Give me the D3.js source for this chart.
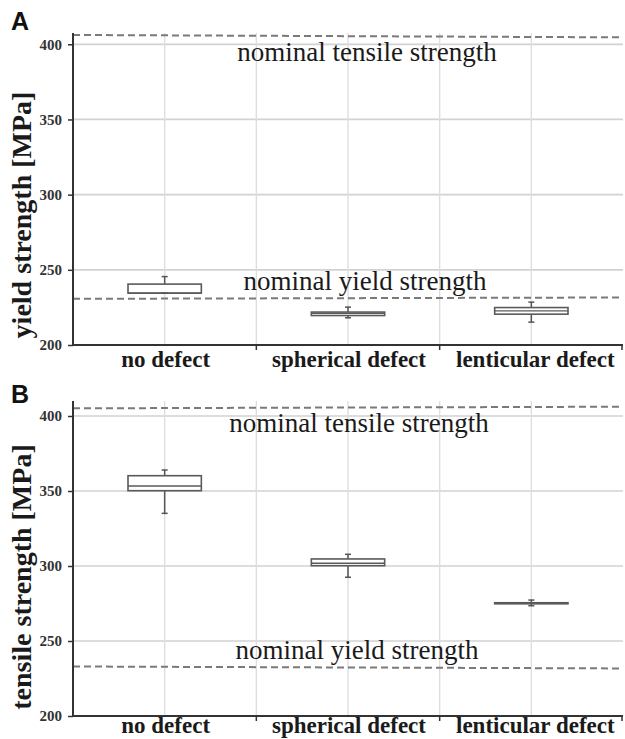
<!DOCTYPE html>
<html>
<head>
<meta charset="utf-8">
<script src="https://cdn.jsdelivr.net/npm/d3@7"></script>
<style>
  html, body { margin: 0; padding: 0; background: #fff; }
  svg { display: block; }
</style>
</head>
<body>
<svg id="chart" width="625" height="739"></svg>
<script>
// ---------- data ----------
const categories = ["no defect", "spherical defect", "lenticular defect"];
const yTicks = [200, 250, 300, 350, 400];

// box statistics: [whiskerLow, q1, median, q3, whiskerHigh]
const yieldBoxes = [
  [234.5, 234.5, 234.5, 240.5, 245.5],
  [218.1, 219.6, 221.0, 221.9, 225.2],
  [215.2, 220.5, 222.7, 224.9, 228.5]
];
const tensileBoxes = [
  [335.1, 350.2, 353.3, 360.2, 364.0],
  [292.5, 300.2, 301.8, 304.7, 307.8],
  [273.5, 274.8, 275.1, 275.5, 277.3]
];
// nominal reference lines: [value at left end, value at right end]
const nominalTensileA = [406.2, 404.6];
const nominalYieldA = [230.7, 231.6];
const nominalTensileB = [405.1, 406.2];
const nominalYieldB = [233.0, 231.7];

const panelLetters = ["A", "B"];
const yTitles = ["yield strength [MPa]", "tensile strength [MPa]"];
const refLabels = ["nominal tensile strength", "nominal yield strength"];

// ---------- drawing ----------
const svg = d3.select("#chart");
const SERIF = "'Liberation Serif', 'Times New Roman', serif";
const SANS = "'Liberation Sans', Arial, sans-serif";

const x = d3.scaleBand().domain(categories).range([73, 623]).padding(0);

function panel(cfg) {
  const g = svg.append("g");
  const y = d3.scaleLinear().domain(cfg.domain).range(cfg.range);

  // horizontal gridlines
  g.selectAll("line.hgrid").data(yTicks.filter(d => d > 200)).join("line")
    .attr("x1", x.range()[0]).attr("x2", x.range()[1])
    .attr("y1", d => y(d)).attr("y2", d => y(d))
    .attr("stroke", "#d2d2d2").attr("stroke-width", 1.7);

  // vertical gridlines: band centres and band boundaries
  const vgrid = [];
  categories.forEach((c, i) => {
    vgrid.push(x(c) + x.bandwidth() / 2);
    if (i > 0) vgrid.push(x(c));
  });
  g.selectAll("line.vgrid").data(vgrid).join("line")
    .attr("x1", d => d).attr("x2", d => d)
    .attr("y1", y(cfg.domain[1])).attr("y2", y(200))
    .attr("stroke", "#dedede").attr("stroke-width", 1.4);

  // nominal lines
  [cfg.tensile, cfg.yield].forEach(v => {
    g.append("line")
      .attr("x1", x.range()[0]).attr("x2", x.range()[1])
      .attr("y1", y(v[0])).attr("y2", y(v[1]))
      .attr("stroke", "#7a7a7a").attr("stroke-width", 2)
      .attr("stroke-dasharray", "7,4");
  });

  // nominal labels
  g.append("text").text(refLabels[0])
    .attr("x", cfg.tensileLabel[0]).attr("y", cfg.tensileLabel[1])
    .attr("text-anchor", "middle").attr("font-family", SERIF)
    .attr("font-size", 27).attr("fill", "#1a1a1a");
  g.append("text").text(refLabels[1])
    .attr("x", cfg.yieldLabel[0]).attr("y", cfg.yieldLabel[1])
    .attr("text-anchor", "middle").attr("font-family", SERIF)
    .attr("font-size", 27).attr("fill", "#1a1a1a");

  // boxes
  const bw = x.bandwidth() * 0.4;
  const cap = 6;
  cfg.boxes.forEach((b, i) => {
    const cx = x(categories[i]) + x.bandwidth() / 2;
    const bg = g.append("g");
    bg.append("line").attr("x1", cx).attr("x2", cx)
      .attr("y1", y(b[4])).attr("y2", y(b[3]))
      .attr("stroke", "#555").attr("stroke-width", 1.5);
    bg.append("line").attr("x1", cx).attr("x2", cx)
      .attr("y1", y(b[1])).attr("y2", y(b[0]))
      .attr("stroke", "#555").attr("stroke-width", 1.5);
    bg.append("rect")
      .attr("x", cx - bw / 2).attr("width", bw)
      .attr("y", y(b[3])).attr("height", Math.max(0.5, y(b[1]) - y(b[3])))
      .attr("fill", "#fff").attr("stroke", "#5a5a5a").attr("stroke-width", 1.6);
    bg.append("line").attr("x1", cx - bw / 2).attr("x2", cx + bw / 2)
      .attr("y1", y(b[2])).attr("y2", y(b[2]))
      .attr("stroke", "#5a5a5a").attr("stroke-width", 1.4);
    [b[0], b[4]].forEach(v => {
      bg.append("line").attr("x1", cx - cap / 2).attr("x2", cx + cap / 2)
        .attr("y1", y(v)).attr("y2", y(v))
        .attr("stroke", "#555").attr("stroke-width", 1.5);
    });
  });

  // y axis
  const yAxis = d3.axisLeft(y).tickValues(yTicks).tickSize(5).tickPadding(6);
  const ya = g.append("g").attr("transform", `translate(${x.range()[0]},0)`).call(yAxis);
  ya.select(".domain").attr("stroke", "#333").attr("stroke-width", 2)
    .attr("d", `M0,${y(cfg.domain[1])}V${y(200)}`);
  ya.selectAll(".tick line").attr("stroke", "#333").attr("stroke-width", 1.5);
  ya.selectAll(".tick text").attr("font-family", SERIF).attr("font-weight", "bold")
    .attr("font-size", 15).attr("fill", "#333");

  // x axis
  const xa = g.append("g").attr("transform", `translate(0,${y(200)})`);
  xa.append("line").attr("x1", x.range()[0]).attr("x2", x.range()[1])
    .attr("stroke", "#333").attr("stroke-width", 2);
  xa.selectAll("line.xt").data(categories.slice(1).map(c => x(c)).concat([x.range()[1] - 1]))
    .join("line").attr("x1", d => d).attr("x2", d => d)
    .attr("y1", 0).attr("y2", 5).attr("stroke", "#333").attr("stroke-width", 1.5);
  xa.selectAll("text.cat").data(categories).join("text")
    .attr("x", (d, i) => x(d) + x.bandwidth() / 2 + (i === 2 ? 4 : 1))
    .attr("y", cfg.catOffset)
    .attr("text-anchor", "middle").attr("font-family", SERIF)
    .attr("font-weight", "bold").attr("font-size", 23).attr("fill", "#1a1a1a")
    .text(d => d);

  // y title
  g.append("text").text(cfg.title)
    .attr("transform", `translate(${cfg.titlePos[0]},${cfg.titlePos[1]}) rotate(-90)`)
    .attr("text-anchor", "middle").attr("font-family", SERIF)
    .attr("font-weight", "bold").attr("font-size", 28).attr("fill", "#1a1a1a");

  // panel letter
  g.append("text").text(cfg.letter)
    .attr("x", 11).attr("y", cfg.letterY)
    .attr("font-family", SANS).attr("font-weight", "bold")
    .attr("font-size", 25).attr("fill", "#111");
}

panel({
  letter: panelLetters[0], letterY: 30, catOffset: 22,
  domain: [200, 407.5], range: [345, 33],
  boxes: yieldBoxes, tensile: nominalTensileA, yield: nominalYieldA,
  tensileLabel: [367, 61], yieldLabel: [365, 290],
  title: yTitles[0], titlePos: [31, 215]
});
panel({
  letter: panelLetters[1], letterY: 403, catOffset: 17,
  domain: [200, 410], range: [716, 401],
  boxes: tensileBoxes, tensile: nominalTensileB, yield: nominalYieldB,
  tensileLabel: [359, 432], yieldLabel: [357, 659],
  title: yTitles[1], titlePos: [31, 577]
});
</script>
</body>
</html>
